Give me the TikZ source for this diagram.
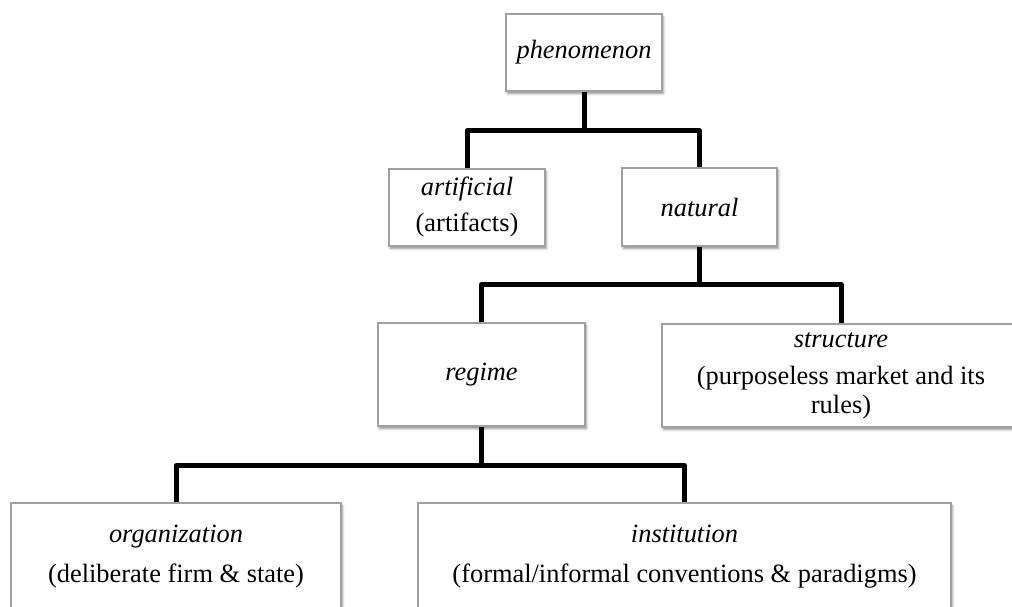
\documentclass[tikz,border=0pt]{standalone}
\usepackage{fontspec}
\setmainfont{Liberation Serif}
\usetikzlibrary{shadows.blur,calc}
\definecolor{boxline}{RGB}{160,160,160}
\tikzset{
  box/.style={draw=boxline, line width=0.6pt, fill=white, inner sep=0pt,
    align=center, font=\fontsize{13.2}{14.5}\selectfont,
    blur shadow={shadow xshift=0.7pt, shadow yshift=-1.3pt,
      shadow blur radius=1.2pt, shadow opacity=45}},
  conn/.style={line width=2.5pt, black, line join=round}
}
\begin{document}
\begin{tikzpicture}[x=0.5pt, y=-0.5pt]
  \useasboundingbox (0,0) rectangle (1012,606);
  \clip (0,0) rectangle (1012,606);

  % boxes of the classification tree
  \node[box, minimum width=78pt, minimum height=38.5pt] (phen) at (584,52.5)
    {\itshape phenomenon};
  \node[box, minimum width=78pt, minimum height=38.5pt] (art) at (467,207.5)
    {\itshape artificial\\[3.5pt] (artifacts)};
  \node[box, minimum width=77.5pt, minimum height=39pt] (nat) at (699.5,207)
    {\itshape natural};
  \node[box, minimum width=103.5pt, minimum height=51.5pt] (reg) at (481.5,374.5)
    {\itshape regime};
  \node[box, minimum width=179pt, minimum height=51.5pt] (str) at (841,375.5)
    {\itshape structure\\[4pt] (purposeless market and its\\ rules)};
  \node[box, minimum width=165pt, minimum height=54pt] (org) at (176,557)
    {\itshape organization\\[5.5pt] (deliberate firm \& state)};
  \node[box, minimum width=266.5pt, minimum height=54pt] (inst) at (684.5,557)
    {\itshape institution\\[5.5pt] (formal/informal conventions \& paradigms)};

  % connectors
  \draw[conn] (art.north) |- ($(phen.south)+(0,39)$) -| (nat.north);
  \draw[conn] (phen.south) -- ++(0,39);
  \draw[conn] (reg.north) |- ($(nat.south)+(0,38)$) -| (str.north);
  \draw[conn] (nat.south) -- ++(0,38);
  \draw[conn] (org.north) |- ($(reg.south)+(0,39)$) -| (inst.north);
  \draw[conn] (reg.south) -- ++(0,39);
\end{tikzpicture}
\end{document}
